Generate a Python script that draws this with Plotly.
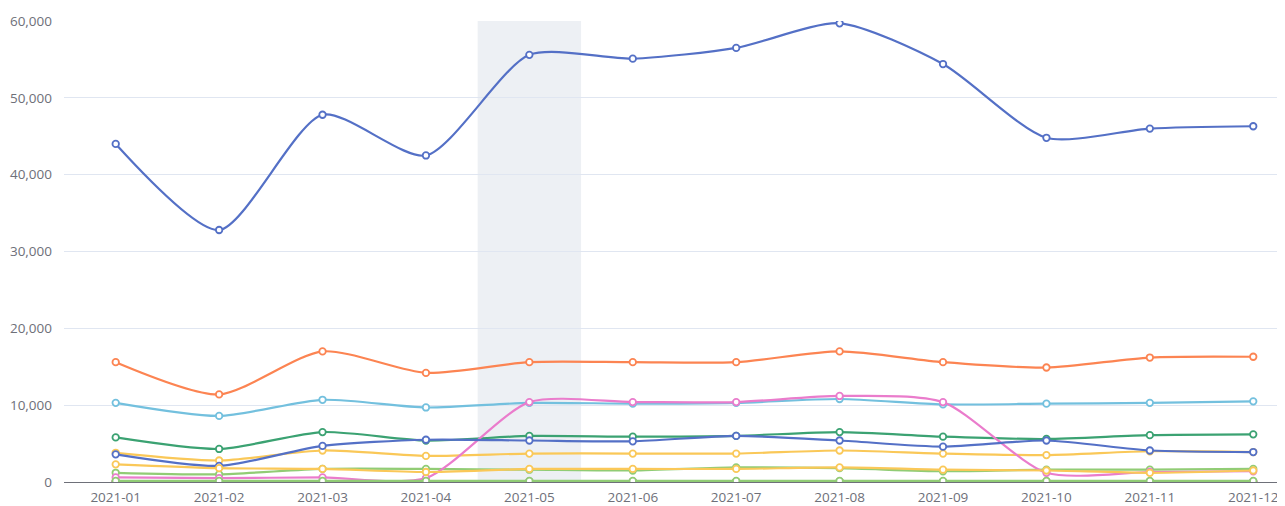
import plotly.graph_objects as go

months = ["2021-01", "2021-02", "2021-03", "2021-04", "2021-05", "2021-06",
          "2021-07", "2021-08", "2021-09", "2021-10", "2021-11", "2021-12"]

s_blue_big = [44000, 32800, 47800, 42500, 55600, 55100, 56500, 59700, 54400, 44800, 46000, 46300]
s_lightgreen = [1200, 1000, 1700, 1700, 1600, 1500, 1900, 1800, 1400, 1600, 1600, 1700]
s_yellow = [3800, 2800, 4100, 3400, 3700, 3700, 3700, 4100, 3700, 3500, 4000, 3900]
s_red = [30, 30, 30, 30, 30, 30, 30, 30, 30, 30, 30, 30]
s_lightblue = [10300, 8600, 10700, 9700, 10300, 10200, 10300, 10800, 10100, 10200, 10300, 10500]
s_green = [5800, 4300, 6500, 5400, 6000, 5900, 6000, 6500, 5900, 5600, 6100, 6200]
s_orange = [15600, 11400, 17000, 14200, 15600, 15600, 15600, 17000, 15600, 14900, 16200, 16300]
s_purple = [80, 80, 80, 80, 80, 80, 80, 80, 80, 80, 80, 80]
s_pink = [600, 500, 600, 500, 10400, 10400, 10400, 11200, 10400, 1200, 1300, 1400]
s_darkblue = [3600, 2100, 4700, 5500, 5400, 5300, 6000, 5400, 4600, 5400, 4100, 3900]
s_green2 = [150, 150, 150, 150, 150, 150, 150, 150, 150, 150, 150, 150]
s_yellow2 = [2300, 1800, 1700, 1300, 1700, 1700, 1700, 1900, 1600, 1500, 1200, 1500]

series = [
    (s_blue_big, "#5470c6"),
    (s_lightgreen, "#91cc75"),
    (s_yellow, "#fac858"),
    (s_red, "#ee6666"),
    (s_lightblue, "#73c0de"),
    (s_green, "#3ba272"),
    (s_orange, "#fc8452"),
    (s_purple, "#9a60b4"),
    (s_pink, "#ea7ccc"),
    (s_darkblue, "#5470c6"),
    (s_green2, "#91cc75"),
    (s_yellow2, "#fac858"),
]

fig = go.Figure()
for vals, col in series:
    fig.add_trace(go.Scatter(
        x=list(range(len(months))), y=vals, mode="lines+markers",
        line=dict(color=col, width=2.2, shape="spline", smoothing=0.7),
        marker=dict(symbol="circle", size=6.5, color="white", line=dict(color=col, width=1.8)),
        showlegend=False, hoverinfo="skip",
    ))

# hover shadow band on 2021-05
fig.add_shape(type="rect", xref="x", yref="paper", x0=3.5, x1=4.5, y0=0, y1=1,
              fillcolor="#edf0f4", line=dict(width=0), layer="below")

# page body has an 8px margin; figure is sized so the plot lands where the reference has it
fig.update_layout(
    width=1277, height=498,
    margin=dict(l=56, r=0, t=13, b=21),
    paper_bgcolor="white", plot_bgcolor="white",
    font=dict(family="Open Sans, Noto Sans, sans-serif", size=13.5, color="#6e7079"),
)
fig.update_xaxes(
    tickmode="array", tickvals=list(range(len(months))), ticktext=months,
    range=[-0.5, 11.307], showgrid=False, zeroline=False,
    showline=True, linecolor="#6e7079", linewidth=1, ticks="", ticklabelstandoff=3,
)
fig.update_yaxes(
    range=[0, 60000], dtick=10000, tickformat=",", showgrid=True, gridcolor="#e0e6f1",
    zeroline=False, showline=False, ticks="", ticklabelstandoff=11,
)

fig.write_html("out.html")
